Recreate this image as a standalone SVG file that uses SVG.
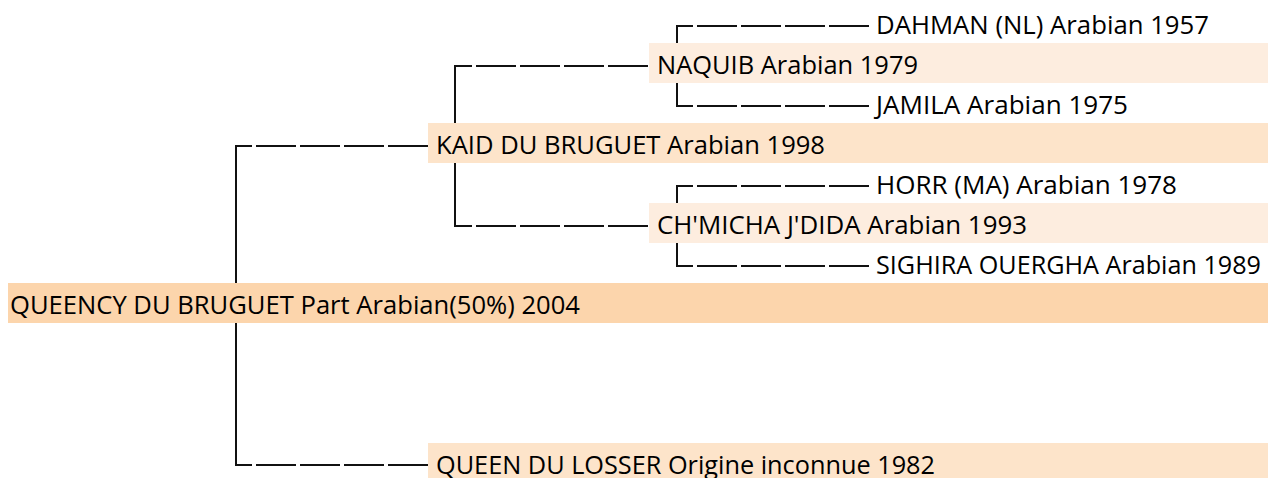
<svg xmlns="http://www.w3.org/2000/svg" width="1268" height="478" viewBox="0 0 1268 478">
<style>
.t{font-family:"Open Sans","Noto Sans","Liberation Sans",sans-serif;font-size:26px;fill:#000}
.c{stroke:#111;stroke-width:2;fill:none}
.d{stroke:#111;stroke-width:2;fill:none;stroke-dasharray:40 4}
.b0{fill:#FCD5AC}
.b1{fill:#FDE4CA}
.b2{fill:#FDEDDF}
</style>
<rect width="1268" height="478" fill="#fff"/>
<g id="connectors">
<path class="c" d="M252,146 H236 V465 H252"/>
<line class="d" x1="256" y1="146" x2="428" y2="146"/>
<line class="d" x1="256" y1="465" x2="428" y2="465"/>
<path class="c" d="M472,66 H455 V226 H472"/>
<line class="d" x1="476" y1="66" x2="649" y2="66"/>
<line class="d" x1="476" y1="226" x2="649" y2="226"/>
<path class="c" d="M693,26 H677 V106 H693"/>
<line class="d" x1="697" y1="26" x2="870" y2="26"/>
<line class="d" x1="697" y1="106" x2="870" y2="106"/>
<path class="c" d="M693,186 H677 V266 H693"/>
<line class="d" x1="697" y1="186" x2="870" y2="186"/>
<line class="d" x1="697" y1="266" x2="870" y2="266"/>
</g>
<g id="n-dahman">
<text class="t" x="876" y="33.5" textLength="333" lengthAdjust="spacingAndGlyphs">DAHMAN (NL) Arabian 1957</text>
</g>
<g id="n-naquib">
<rect class="b2" x="649" y="43" width="619" height="40"/>
<text class="t" x="657" y="73.5" textLength="261" lengthAdjust="spacingAndGlyphs">NAQUIB Arabian 1979</text>
</g>
<g id="n-jamila">
<text class="t" x="876" y="113.5" textLength="252" lengthAdjust="spacingAndGlyphs">JAMILA Arabian 1975</text>
</g>
<g id="n-kaid">
<rect class="b1" x="428" y="123" width="840" height="40"/>
<text class="t" x="436" y="153.5" textLength="389" lengthAdjust="spacingAndGlyphs">KAID DU BRUGUET Arabian 1998</text>
</g>
<g id="n-horr">
<text class="t" x="876" y="193.5" textLength="301" lengthAdjust="spacingAndGlyphs">HORR (MA) Arabian 1978</text>
</g>
<g id="n-chmicha">
<rect class="b2" x="649" y="203" width="619" height="40"/>
<text class="t" x="657" y="233.5" textLength="370" lengthAdjust="spacingAndGlyphs">CH'MICHA J'DIDA Arabian 1993</text>
</g>
<g id="n-sighira">
<text class="t" x="876" y="273.5" textLength="385" lengthAdjust="spacingAndGlyphs">SIGHIRA OUERGHA Arabian 1989</text>
</g>
<g id="n-queency">
<rect class="b0" x="8" y="283" width="1260" height="40"/>
<text class="t" x="10" y="314" textLength="570" lengthAdjust="spacingAndGlyphs">QUEENCY DU BRUGUET Part Arabian(50%) 2004</text>
</g>
<g id="n-queen">
<rect class="b1" x="428" y="443" width="840" height="40"/>
<text class="t" x="436" y="473.5" textLength="499" lengthAdjust="spacingAndGlyphs">QUEEN DU LOSSER Origine inconnue 1982</text>
</g>
</svg>
